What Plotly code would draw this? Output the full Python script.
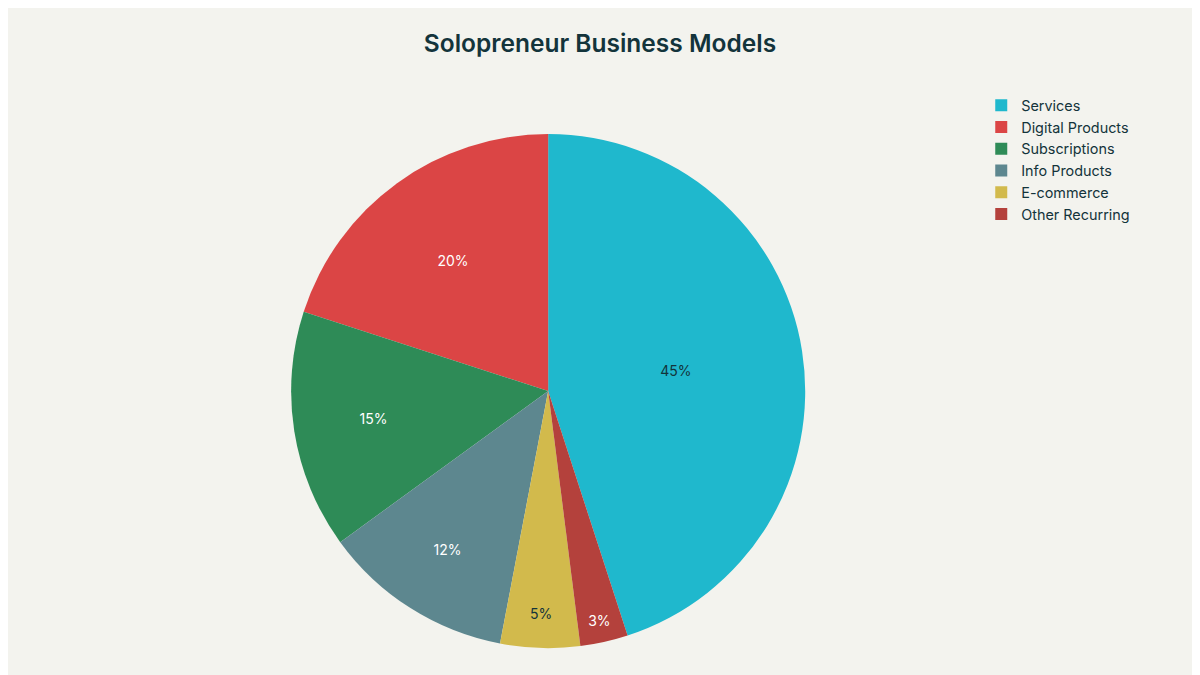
import plotly.graph_objects as go

labels = ["Services", "Digital Products", "Subscriptions", "Info Products", "E-commerce", "Other Recurring"]
values = [45, 20, 15, 12, 5, 3]
colors = ["#1FB8CD", "#DB4545", "#2E8B57", "#5D878F", "#D2BA4C", "#B4413C"]
text_colors = ["#13343B", "white", "white", "white", "#13343B", "white"]

fig = go.Figure(go.Pie(
    labels=labels,
    values=values,
    sort=False,
    direction="counterclockwise",
    rotation=0,
    marker=dict(colors=colors),
    textinfo="percent",
    textposition="inside",
    insidetextfont=dict(color=text_colors, size=14),
    texttemplate="%{percent:.0%}",
    domain=dict(x=[0.0926, 0.7966], y=[0.025, 0.889]),
))

fig.update_layout(
    width=1200, height=675,
    title=dict(text="Solopreneur Business Models", x=0.4933, y=0.947, xanchor="center", yanchor="middle",
               font=dict(size=24.5, color="#13343B", family="Inter", weight=600)),
    font=dict(family="Inter", color="#13343B", size=14),
    paper_bgcolor="#F3F3EE",
    plot_bgcolor="#F3F3EE",
    legend=dict(x=0.8456, y=0.964, xanchor="left", yanchor="top", font=dict(size=14.4),
                itemwidth=30),
    margin=dict(l=60, r=60, t=60, b=20),
    uniformtext=dict(minsize=10, mode="hide"),
)

fig.write_html("out.html")
